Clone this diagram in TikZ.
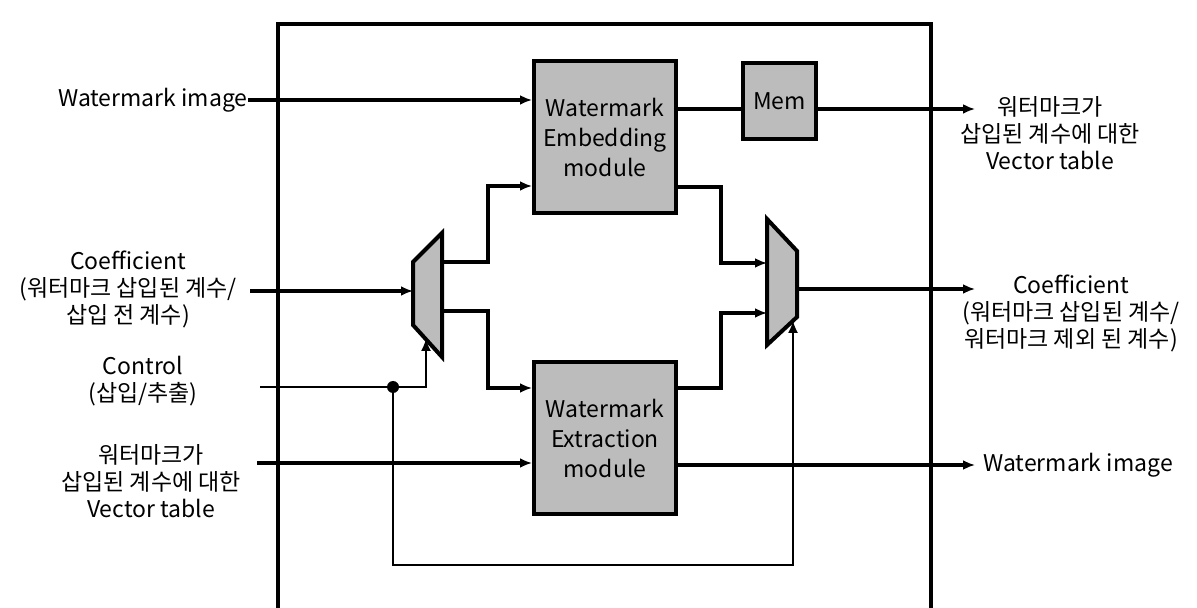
\documentclass[tikz,border=0pt]{standalone}
\usepackage{fontspec}
\setmainfont{Noto Sans CJK KR}
\usepackage{tikz}
\usetikzlibrary{arrows.meta,positioning,calc}
\definecolor{boxgray}{RGB}{188,188,188}

\begin{document}
\begin{tikzpicture}[x=0.5pt, y=-0.5pt,
    every node/.style={font=\fontsize{11.5}{13.5}\selectfont, inner sep=0pt},
    sig/.style={line width=1.8pt},
    ctl/.style={line width=0.7pt},
    tip/.style={-{Latex[length=6pt,width=5pt]}},
    modbox/.style={draw, line width=2pt, fill=boxgray, align=center,
      minimum width=71pt, minimum height=76pt, font=\fontsize{11.5}{15}\selectfont},
    muxbody/.style={draw, line width=2pt, fill=boxgray, line join=miter}]
  \useasboundingbox (0,0) rectangle (1197,608);
  % chip outline, open at the bottom
  \draw[line width=1.8pt] (278,608) -- (278,24) -- (931,24) -- (931,608);

  % modules
  \node[modbox] (embed) at (605,137.5) {Watermark\\Embedding\\module};
  \node[modbox] (extract) at (605,438) {Watermark\\Extraction\\module};
  \node[modbox, minimum width=36.5pt, minimum height=38pt] (mem) at (779.5,101) {Mem};

  % demux (left) and mux (right)
  \draw[muxbody] (413,262) -- (442,233) -- (442,357) -- (413,325) -- cycle;
  \draw[muxbody] (767,219) -- (797,251) -- (797,317) -- (767,345) -- cycle;
  \coordinate (dmxin) at (413,291);
  \coordinate (dmxup) at (442,262);
  \coordinate (dmxdn) at (442,311);
  \coordinate (dmxsel) at (426,339);
  \coordinate (mxup) at (767,263);
  \coordinate (mxdn) at (767,313);
  \coordinate (mxout) at (797,289);
  \coordinate (mxsel) at (793,321);

  % inputs
  \node[anchor=east] (wmin) at (248,100) {Watermark image};
  \node[align=center] (coefin) at (128,289) {Coefficient\\(워터마크 삽입된 계수/\\삽입 전 계수)};
  \node[align=center] (ctlin) at (143,381) {Control\\(삽입/추출)};
  \node[align=center] (vtin) at (151,481) {워터마크가\\삽입된 계수에 대한\\Vector table};
  \coordinate (coefin-p) at (250,291);
  \coordinate (ctlin-p) at (260,387);
  \coordinate (vtin-p) at (257,463);
  \coordinate (split) at (393,387);
  \coordinate (loop) at (600,565);

  % outputs
  \node[align=center] (vtout) at (1050,133) {워터마크가\\삽입된 계수에 대한\\Vector table};
  \node[align=center] (coefout) at (1071,313) {Coefficient\\(워터마크 삽입된 계수/\\워터마크 제외 된 계수)};
  \node[anchor=west] (wmout) at (983,465) {Watermark image};
  \coordinate (vtout-p) at (975,109);
  \coordinate (coefout-p) at (975,289);

  % data paths
  \draw[sig,tip] (wmin.east) -- (embed.west |- wmin.east);
  \draw[sig] (embed.east |- vtout-p) -- (mem.west |- vtout-p);
  \draw[sig,tip] (mem.east |- vtout-p) -- (vtout-p);
  \draw[sig,tip] (coefin-p) -- (dmxin);
  \draw[sig,tip] (dmxup) -- (488,262) -- (488,186) -- (embed.west |- 0,186);
  \draw[sig,tip] (dmxdn) -- (488,311) -- (488,388) -- (extract.west |- 0,388);
  \draw[sig,tip] (vtin-p) -- (extract.west |- vtin-p);
  \draw[sig,tip] (embed.east |- 0,187) -- (721,187) -- (721,263) -- (mxup);
  \draw[sig,tip] (extract.east |- 0,388) -- (721,388) -- (721,313) -- (mxdn);
  \draw[sig,tip] (mxout) -- (coefout-p);
  \draw[sig,tip] (extract.east |- 0,465) -- ([xshift=-4pt]wmout.west);

  % control
  \draw[ctl] (ctlin-p) -- (split);
  \fill (split) circle (3pt);
  \draw[ctl,tip] (split) -- (dmxsel |- split) -- (dmxsel);
  \draw[ctl,tip] (split) -- (split |- loop) -- (mxsel |- loop) -- (mxsel);
\end{tikzpicture}
\end{document}
